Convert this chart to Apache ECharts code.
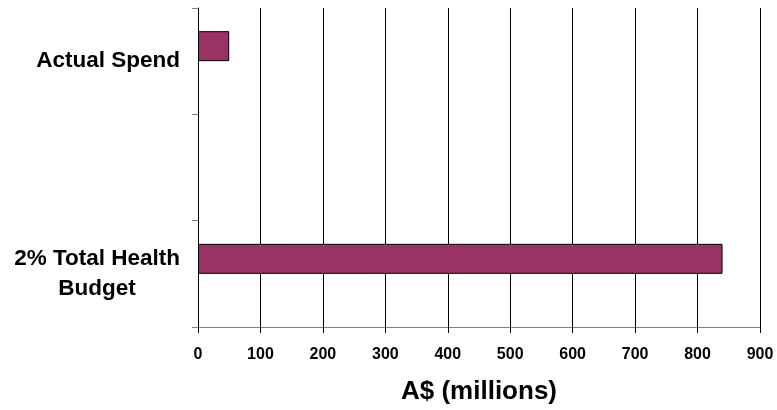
<!DOCTYPE html>
<html>
<head>
<meta charset="utf-8">
<script src="https://cdn.jsdelivr.net/npm/echarts@6/dist/echarts.min.js"></script>
<style>
html,body{margin:0;padding:0;background:#fff;}
#c{width:777px;height:410px;}
</style>
</head>
<body>
<div id="c"></div>
<script>
var categories = ['2% Total Health Budget', '', 'Actual Spend'];
var values = [840, null, 50];
var xTicks = { min: 0, max: 900, interval: 100 };
var xName = 'A$ (millions)';

var FONT = '"Liberation Sans", Arial, sans-serif';
var chart = echarts.init(document.getElementById('c'));
chart.setOption({
  animation: false,
  backgroundColor: '#ffffff',
  grid: { left: 198, right: 17, top: 8, bottom: 83 },
  xAxis: {
    type: 'value',
    min: xTicks.min, max: xTicks.max, interval: xTicks.interval,
    name: xName,
    nameLocation: 'middle',
    nameGap: 52,
    nameTextStyle: { fontFamily: FONT, fontWeight: 'bold', fontSize: 26, color: '#000' },
    axisLine: { show: true, lineStyle: { color: '#808080', width: 1 } },
    axisTick: { show: true, length: 6, lineStyle: { color: '#000' } },
    axisLabel: { margin: 20, fontFamily: FONT, fontWeight: 'bold', fontSize: 16, color: '#000' },
    splitLine: { show: true, lineStyle: { color: '#000', width: 1 } }
  },
  yAxis: {
    type: 'category',
    data: categories,
    axisLine: { show: true, lineStyle: { color: '#000', width: 1 } },
    axisTick: { show: true, length: 6, lineStyle: { color: '#808080' } },
    axisLabel: {
      margin: 18,
      fontFamily: FONT, fontWeight: 'bold', fontSize: 22.5, color: '#000',
      lineHeight: 30,
      formatter: function (v) {
        if (v === '2% Total Health Budget') return '{a|2% Total Health}\n{a|Budget}';
        return v;
      },
      rich: { a: { align: 'center', fontFamily: FONT, fontWeight: 'bold', fontSize: 22.5, color: '#000', lineHeight: 30 } }
    },
    splitLine: { show: false }
  },
  series: [
    {
      type: 'bar',
      data: values,
      barWidth: 30,
      barGap: '0%',
      itemStyle: { color: '#993366', borderColor: '#000', borderWidth: 1 }
    },
    {
      type: 'bar',
      data: [null, null, null],
      barWidth: 30,
      barGap: '0%'
    }
  ]
});
</script>
</body>
</html>
